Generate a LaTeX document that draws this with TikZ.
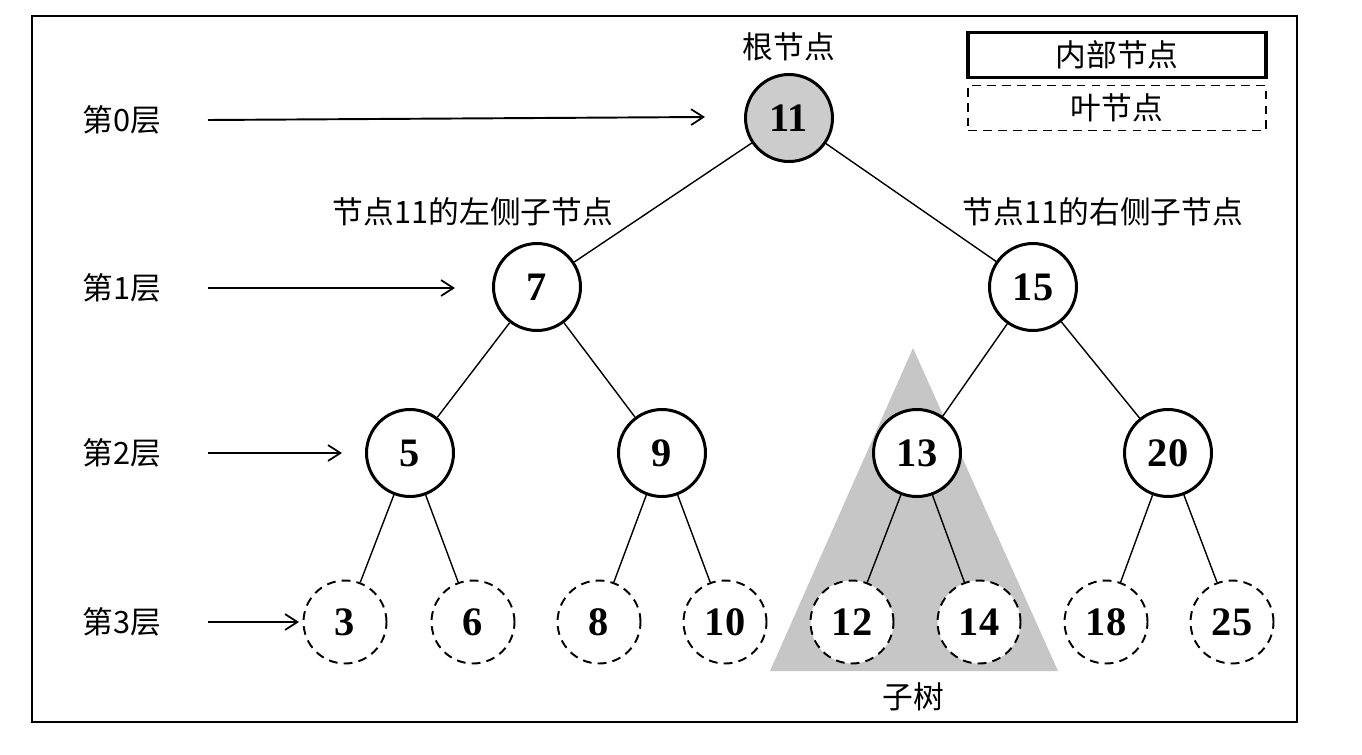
\documentclass[tikz,border=0pt]{standalone}
\usepackage{fontspec}
\setmainfont{Liberation Serif}
\newfontfamily\cjk{Noto Sans CJK SC}
\usepackage{tikz}
\usetikzlibrary{positioning,calc,arrows.meta}

\tikzset{
    inner/.style={draw, circle, line width=1.7pt, minimum size=1.74cm, inner sep=0pt, fill=white,
        font=\fontsize{23}{23}\selectfont\bfseries},
    leaf/.style={draw, circle, line width=1.1pt, dash pattern=on 5pt off 3.5pt, minimum size=1.66cm,
        inner sep=0pt, fill=white, font=\fontsize{23}{23}\selectfont\bfseries},
    edge/.style={line width=0.8pt},
    levelarrow/.style={line width=1.1pt, -{Straight Barb[length=7pt,width=9pt,line width=1pt]}},
    zh/.style={font=\cjk\fontsize{17.5}{17.5}\selectfont}
}

\begin{document}
\begin{tikzpicture}[x=0.02cm, y=-0.02cm]
    \useasboundingbox (0,0) rectangle (1362,754);
    % Frame
    \draw[line width=1.6pt] (32,16) rectangle (1297,722);

    % Subtree triangle
    \fill[gray!45] (913,348) -- (1058,671) -- (770,671) -- cycle;

    % Internal nodes
    \node[inner, fill=gray!40] (n11) at (789,118) {11};
    \node[inner] (n7) at (537,287) {7};
    \node[inner] (n15) at (1033,287) {15};
    \node[inner] (n5) at (410,453) {5};
    \node[inner] (n9) at (662,453) {9};
    \node[inner] (n13) at (917,453) {13};
    \node[inner] (n20) at (1168,453) {20};

    % Leaves
    \foreach \v/\x in {3/345, 6/473, 8/599, 10/725, 12/852, 14/979, 18/1106, 25/1232}
        \node[leaf] (n\v) at (\x,622) {\v};

    % Edges
    \foreach \a/\b in {11/7, 11/15, 7/5, 7/9, 15/13, 15/20,
                       5/3, 5/6, 9/8, 9/10, 13/12, 13/14, 20/18, 20/25}
        \draw[edge] (n\a) -- (n\b);

    % Levels
    \node[zh] (l0) at (122,120) {第0层};
    \node[zh] (l1) at (122,288) {第1层};
    \node[zh] (l2) at (122,453) {第2层};
    \node[zh] (l3) at (122,622) {第3层};
    \coordinate (a0) at (705,117);
    \coordinate (a1) at (455,288);
    \coordinate (a2) at (342,453);
    \coordinate (a3) at (299,622);
    \foreach \i in {0,...,3}
        \draw[levelarrow] (208,0 |- l\i) -- (a\i);

    % Labels
    \node[zh] (root) at (789,47) {根节点};
    \node[zh] (lchild) at (473,212) {节点11的左侧子节点};
    \node[zh] (rchild) at (1103,212) {节点11的右侧子节点};
    \node[zh] (sub) at (913,697) {子树};

    % Legend
    \node[zh, draw, line width=2.2pt, minimum width=5.95cm, minimum height=0.9cm] (key1) at (1117,55) {内部节点};
    \node[zh, draw, line width=1pt, dash pattern=on 5pt off 3.5pt, minimum width=5.95cm, minimum height=0.9cm] (key2) at (1117,108) {叶节点};
\end{tikzpicture}
\end{document}
